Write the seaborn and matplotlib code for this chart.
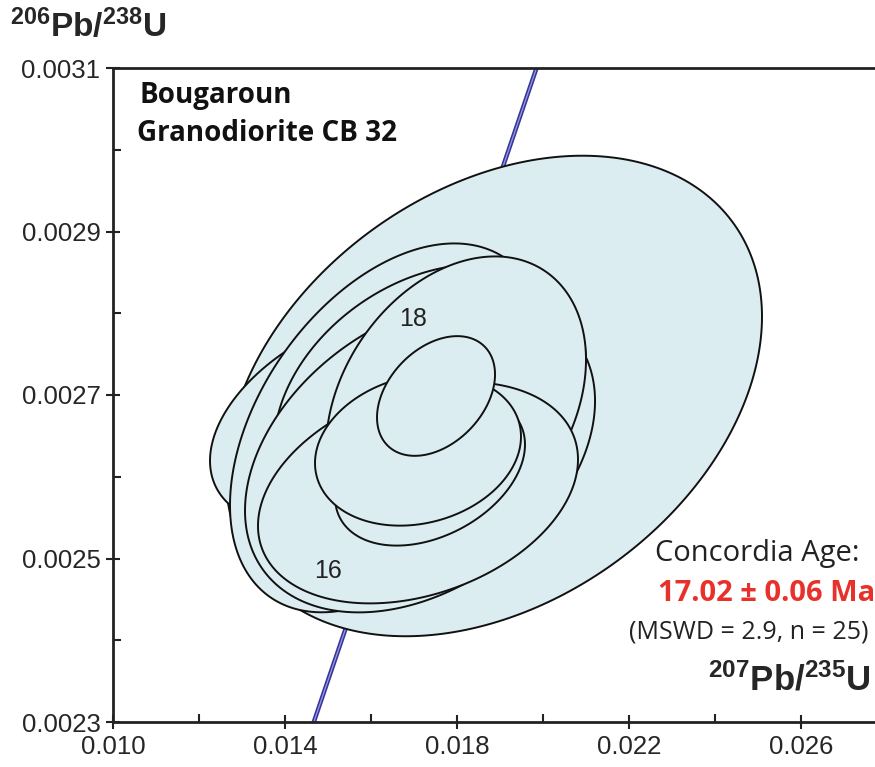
import numpy as np
import matplotlib
matplotlib.use("Agg")
import matplotlib.pyplot as plt
import seaborn as sns

# ---- data ----
# zircon analyses drawn as error ellipses (back to front)
ell_x = [0.018860, 0.015744, 0.016395, 0.017372, 0.017140, 0.017977, 0.017093, 0.017372, 0.017093, 0.017512]
ell_y = [0.0026988, 0.0026732, 0.0026598, 0.0026890, 0.0026256, 0.0026890, 0.0025805, 0.0026073, 0.0026329, 0.0026988]
err_x = [0.006233, 0.003488, 0.003674, 0.003628, 0.004070, 0.003023, 0.003721, 0.002209, 0.002395, 0.001372]
err_y = [0.0002939, 0.0001341, 0.0002256, 0.0001707, 0.0001915, 0.0001805, 0.0001354, 0.0000915, 0.0000927, 0.0000732]
rho = [0.33, 0.40, 0.42, 0.30, 0.35, 0.30, 0.30, 0.35, 0.175, 0.36]

# concordia segment
conc_x = [0.01467, 0.01985]
conc_y = [0.0023, 0.0031]

# spot labels
spot_labels = ["18", "16"]
spot_x = [0.01698, 0.01500]
spot_y = [0.002793, 0.002485]

x_ticks = [0.010, 0.014, 0.018, 0.022, 0.026]
y_ticks = [0.0023, 0.0025, 0.0027, 0.0029, 0.0031]

sns.set_style("ticks")
plt.rcParams['font.family'] = ['Liberation Sans', 'DejaVu Sans']
plt.rcParams['mathtext.fontset'] = 'custom'
plt.rcParams['mathtext.rm'] = 'Liberation Sans'
plt.rcParams['mathtext.bf'] = 'Liberation Sans:bold'

fig = plt.figure(figsize=(8.75, 7.67), dpi=100)
ax = fig.add_axes([113/875, 45/767, 762/875, 654/767])

# concordia line (behind the ellipses)
sns.lineplot(x=conc_x, y=conc_y, ax=ax, color='#35359a', linewidth=3.2, zorder=1)
sns.lineplot(x=conc_x, y=conc_y, ax=ax, color='#9a9ae0', linewidth=0.9, zorder=1)

# error ellipses
t = np.linspace(0, 2*np.pi, 300)
for i in range(len(ell_x)):
    ex = ell_x[i] + err_x[i]*np.cos(t)
    ey = ell_y[i] + err_y[i]*(rho[i]*np.cos(t) + np.sqrt(1 - rho[i]**2)*np.sin(t))
    ax.fill(ex, ey, facecolor='#dcedf1', edgecolor='#111111', linewidth=1.4, zorder=2 + i)

for lab, sx, sy in zip(spot_labels, spot_x, spot_y):
    ax.text(sx, sy, lab, fontsize=18, ha='center', va='center', color='#222222', zorder=20)

ax.set_xlim(0.010, 0.027721)
ax.set_ylim(0.0023, 0.0031)
ax.set_xticks(x_ticks)
ax.set_yticks(y_ticks)
ax.set_xticklabels(["%.3f" % v for v in x_ticks])
ax.set_yticklabels(["%.4f" % v for v in y_ticks])
ax.set_xticks([0.012, 0.016, 0.020, 0.024], minor=True)
ax.set_yticks([0.0024, 0.0026, 0.0028, 0.0030], minor=True)
ax.tick_params(which='major', direction='inout', length=10, width=1.5, labelsize=18.5, pad=4, color='#222222')
ax.tick_params(which='minor', direction='in', length=6, width=1.5, color='#222222')
ax.spines['right'].set_visible(False)
for s in ['left', 'bottom', 'top']:
    ax.spines[s].set_linewidth(2.0)
    ax.spines[s].set_color('#222222')

# titles and annotations
ax.text(0.035, 0.958, "Bougaroun", transform=ax.transAxes, fontsize=20, fontweight='bold',
        family=['Open Sans', 'DejaVu Sans'], va='center', ha='left', color='#111111')
ax.text(0.031, 0.900, "Granodiorite CB 32", transform=ax.transAxes, fontsize=20, fontweight='bold',
        family=['Open Sans', 'DejaVu Sans'], va='center', ha='left', color='#111111')

fig.text(0.012, 0.952, r'$\mathbf{^{206}Pb/^{238}U}$', fontsize=24, ha='left', va='baseline')
ax.text(0.994, 0.049, r'$\mathbf{^{207}Pb/^{235}U}$', transform=ax.transAxes, fontsize=25,
        ha='right', va='baseline')

ax.text(0.980, 0.258, "Concordia Age:", transform=ax.transAxes, fontsize=21,
        family=['Open Sans', 'DejaVu Sans'], ha='right', va='center', color='#222222')
ax.text(1.0, 0.197, "17.02 \u00b1 0.06 Ma", transform=ax.transAxes, fontsize=21, fontweight='bold',
        family=['Open Sans', 'DejaVu Sans'], ha='right', va='center', color='#e8312a')
ax.text(0.992, 0.138, "(MSWD = 2.9, n = 25)", transform=ax.transAxes, fontsize=18,
        family=['Open Sans', 'DejaVu Sans'], ha='right', va='center', color='#222222')

fig.savefig("out.png", dpi=100)
